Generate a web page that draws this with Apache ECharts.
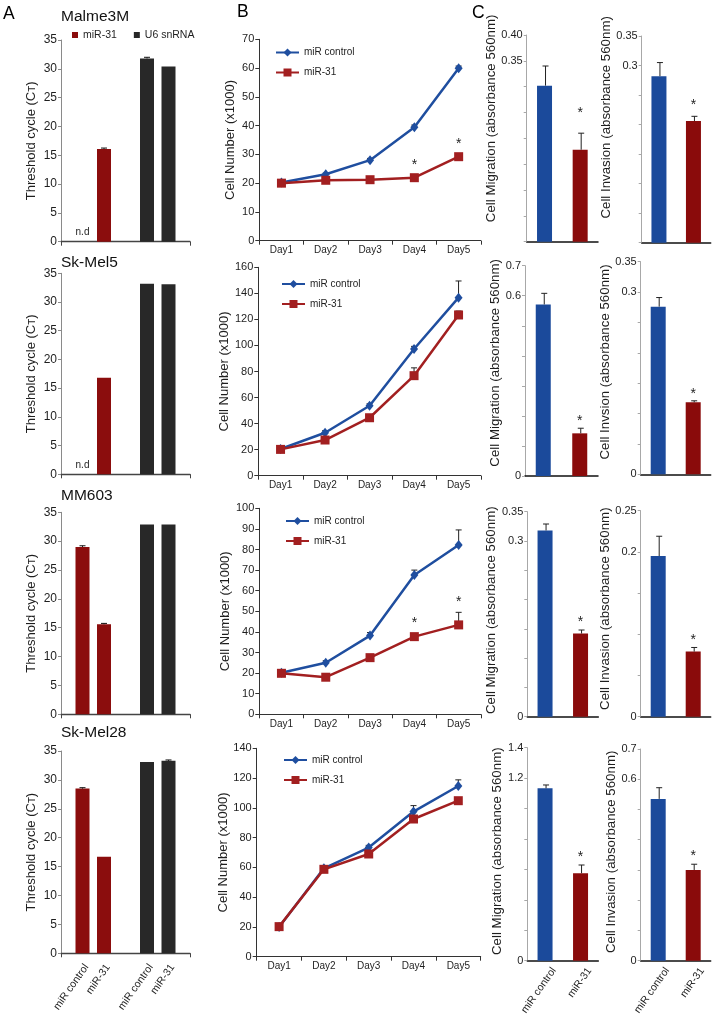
<!DOCTYPE html>
<html>
<head>
<meta charset="utf-8">
<title>miR-31 figure</title>
<script src="https://cdn.jsdelivr.net/npm/echarts/dist/echarts.min.js"></script>
<style>
html,body{margin:0;padding:0;background:#fff;}
#chart{width:718px;height:1016px;}
</style>
</head>
<body>
<div id="chart"></div>
<script>
// ================= DATA =================
const cellLines   = ['Malme3M', 'Sk-Mel5', 'MM603', 'Sk-Mel28'];
const sampleNames = ['miR control', 'miR-31'];
const probeNames  = ['miR-31', 'U6 snRNA'];

// Panel A: threshold cycle (Ct); null = not detected (n.d)
const ctMiR31Control    = [null, null, 29.0, 28.5];
const ctMiR31Treated    = [16.1, 16.8, 15.6, 16.7];
const ctU6Control       = [31.8, 33.2, 32.9, 33.1];
const ctU6Treated       = [30.4, 33.1, 32.9, 33.3];
const ctMiR31ControlErr = [0, 0, 0.2, 0.15];
const ctMiR31TreatedErr = [0.15, 0.1, 0.15, 0.1];
const ctU6ControlErr    = [0.2, 0.1, 0.1, 0.1];
const ctU6TreatedErr    = [0.1, 0.1, 0.1, 0.15];
const ctAxisMax  = 35;
const ctAxisStep = 5;

// Panel B: cell number (x1000)
const days = ['Day1', 'Day2', 'Day3', 'Day4', 'Day5'];
const growthControl = [
  [20.2, 23.1, 28.0, 39.4, 59.9],
  [20.5, 33.0, 53.7, 97.3, 136.7],
  [20.2, 25.0, 38.2, 67.6, 82.2],
  [20.0, 59.4, 73.3, 97.5, 114.7]
];
const growthMiR31 = [
  [20.0, 21.0, 21.2, 21.9, 29.2],
  [20.2, 27.4, 44.5, 76.8, 123.4],
  [19.9, 18.0, 27.5, 37.7, 43.4],
  [20.2, 58.7, 69.0, 92.5, 104.8]
];
const growthControlErr = [
  [0.3, 0.4, 0.6, 0.8, 0.8],
  [0.5, 1.5, 1.5, 2.0, 12.8],
  [0.5, 1.0, 1.5, 2.4, 7.3],
  [0.5, 1.0, 1.5, 4.0, 4.1]
];
const growthMiR31Err = [
  [0.3, 0.4, 0.4, 0.5, 0.6],
  [0.5, 1.0, 1.5, 6.0, 3.0],
  [0.5, 1.8, 1.0, 1.0, 6.1],
  [0.5, 1.0, 1.0, 1.0, 1.0]
];
const growthStars = [
  [0, 0, 0, 1, 1],
  [0, 0, 0, 0, 0],
  [0, 0, 0, 1, 1],
  [0, 0, 0, 0, 0]
];
const growthAxisMax  = [70, 160, 100, 140];
const growthAxisStep = [10, 20, 10, 20];

// Panel C: migration / invasion (absorbance 560nm)
const migrationControl    = [0.302, 0.571, 0.318, 1.133];
const migrationMiR31      = [0.178, 0.142, 0.142, 0.575];
const migrationControlErr = [0.038, 0.037, 0.011, 0.022];
const migrationMiR31Err   = [0.032, 0.017, 0.006, 0.054];
const migrationStars      = [1, 1, 1, 1];
const migrationAxisMax    = [0.40, 0.7, 0.35, 1.4];
const migrationAxisStep   = [0.05, 0.1, 0.05, 0.2];
const migrationTickLabels = [['0.40', '0.35'], ['0.7', '0.6', '0'], ['0.35', '0.3', '0'], ['1.4', '1.2', '0']];

const invasionControl    = [0.282, 0.276, 0.195, 0.535];
const invasionMiR31      = [0.206, 0.1185, 0.079, 0.300];
const invasionControlErr = [0.023, 0.015, 0.024, 0.037];
const invasionMiR31Err   = [0.008, 0.0025, 0.005, 0.019];
const invasionStars      = [1, 1, 1, 1];
const invasionAxisMax    = [0.35, 0.35, 0.25, 0.7];
const invasionAxisStep   = [0.05, 0.05, 0.05, 0.1];
const invasionTickLabels = [['0.35', '0.3'], ['0.35', '0.3', '0'], ['0.25', '0.2', '0'], ['0.7', '0.6', '0']];

const migrationTitle = ['Cell Migration (absorbance 560nm)', 'Cell Migration (absorbance 560nm)', 'Cell Migration (absorbance 560nm)', 'Cell Migration (absorbance 560nm)'];
const invasionTitle  = ['Cell Invasion (absorbance 560nm)', 'Cell Invsion (absorbance 560nm)', 'Cell Invasion (absorbance 560nm)', 'Cell Invasion (absorbance 560nm)'];

// ================= LAYOUT / STYLE =================
const FONT = "'Liberation Sans', Arial, Helvetica, sans-serif";
const RED_A = '#8b0d0d', DARK = '#282828', BLUE = '#1b4a9b', RED_C = '#8a0b0b';
const LINE_BLUE = '#1f4e9f', LINE_RED = '#a21f20';
const TXT = '#1e1e1e';

const gridA  = [[61, 40, 129, 201.7], [61, 273.3, 129, 201], [61, 512.3, 129, 202], [61, 751, 129, 202.3]];
const gridB  = [[259.3, 39.3, 221.5, 201.4], [258.3, 267.3, 222.5, 208.4], [259.3, 508.3, 221.5, 206], [256.7, 748.3, 224, 208.4]];
const gridCm = [[526.7, 35, 71.3, 206.7], [525, 265.7, 73, 210.3], [527.3, 511.7, 71, 205], [527.3, 747.7, 71, 213]];
const gridCi = [[641.7, 36, 69, 206.7], [640.7, 261.7, 70, 212.6], [640.7, 510.7, 70, 206], [640.7, 749, 70, 211.7]];
const legendB = [[275, 47.5], [281, 279], [285, 516], [283, 755]];
const rowTitleTop = [9, 255, 488, 725];
const cNameLift   = [[20, 22], [8, 6], [4, 5], [3, 3]];     // shift of C axis names upward (px)
const cStarGap    = [[23, 14], [10, 10], [11, 10], [11, 11]]; // star centre above error cap (px)

const A_BAR_W = 14, A_BAR_GAP = 7.5, A_PITCH = A_BAR_W + A_BAR_GAP;
const LABEL_ROT = 55 * Math.PI / 180;

const grid = [], xAxis = [], yAxis = [], series = [], legend = [], title = [];

function addGrid(g) {
  grid.push({ left: g[0], top: g[1], width: g[2], height: g[3], containLabel: false });
  return grid.length - 1;
}

function errorBar(x, y0, y1, ch, color) {
  if (y0 - y1 < 0.8) return;
  ch.push({ type: 'line', shape: { x1: x, y1: y0, x2: x, y2: y1 }, style: { stroke: color, lineWidth: 1 } });
  ch.push({ type: 'line', shape: { x1: x - 3, y1: y1, x2: x + 3, y2: y1 }, style: { stroke: color, lineWidth: 1 } });
}
function textEl(txt, x, y, size, align, valign, rot) {
  return { type: 'text', x: x, y: y, rotation: rot || 0,
    style: { text: txt, x: 0, y: 0, fill: TXT, fontSize: size, fontFamily: FONT,
             align: align, verticalAlign: valign, textAlign: align, textVerticalAlign: valign } };
}

// ---------- Panel B (first, so legends pick these line series) ----------
for (let r = 0; r < 4; r++) {
  const g = addGrid(gridB[r]);
  xAxis.push({ gridIndex: g, type: 'category', data: days, boundaryGap: true,
    axisLine: { lineStyle: { color: '#333', width: 1 } },
    axisTick: { show: true, length: 4, lineStyle: { color: '#333' } },
    axisLabel: { fontSize: 10, color: TXT, margin: 5, fontFamily: FONT },
    splitLine: { show: false } });
  yAxis.push({ gridIndex: g, type: 'value', min: 0, max: growthAxisMax[r], interval: growthAxisStep[r],
    axisLine: { show: true, lineStyle: { color: '#333' } },
    axisTick: { show: true, length: 4, lineStyle: { color: '#333' } },
    axisLabel: { fontSize: 11, color: TXT, margin: 5, fontFamily: FONT },
    splitLine: { show: false },
    name: 'Cell Number (x1000)', nameLocation: 'middle', nameGap: 22,
    nameTextStyle: { fontSize: 13, color: TXT, fontFamily: FONT } });
  const ax = xAxis.length - 1, ay = yAxis.length - 1;
  series.push({ type: 'line', name: 'miR control', xAxisIndex: ax, yAxisIndex: ay, data: growthControl[r],
    symbol: 'diamond', symbolSize: [8, 10], lineStyle: { color: LINE_BLUE, width: 2.5 },
    itemStyle: { color: LINE_BLUE }, z: 3, silent: true });
  series.push({ type: 'line', name: 'miR-31', xAxisIndex: ax, yAxisIndex: ay, data: growthMiR31[r],
    symbol: 'rect', symbolSize: 9, lineStyle: { color: LINE_RED, width: 2.5 },
    itemStyle: { color: LINE_RED }, z: 4, silent: true });
  const errData = [];
  days.forEach((d, i) => {
    errData.push([i, growthControl[r][i], growthControlErr[r][i], 0]);
    errData.push([i, growthMiR31[r][i], growthMiR31Err[r][i], growthStars[r][i]]);
  });
  series.push({ type: 'custom', name: 'growth-err-' + r, xAxisIndex: ax, yAxisIndex: ay, data: errData,
    encode: { x: 0, y: 1 }, z: 2, clip: false, silent: true,
    renderItem: function (params, api) {
      const i = api.value(0), v = api.value(1), e = api.value(2), s = api.value(3);
      const p = api.coord([i, v]), t = api.coord([i, v + e]);
      const ch = [];
      errorBar(p[0], p[1], t[1], ch, '#222');
      if (s) ch.push(textEl('*', p[0], Math.min(p[1] - 13, t[1] - 10), 14, 'center', 'middle'));
      return { type: 'group', children: ch };
    } });
  legend.push({ left: legendB[r][0], top: legendB[r][1], orient: 'vertical', itemWidth: 23, itemHeight: 10,
    itemGap: 10, padding: 0, selectedMode: false, data: ['miR control', 'miR-31'],
    textStyle: { fontSize: 10, color: TXT, fontFamily: FONT } });
}

// ---------- Panel A ----------
for (let r = 0; r < 4; r++) {
  const g = addGrid(gridA[r]);
  xAxis.push({ gridIndex: g, type: 'category', data: probeNames, boundaryGap: true,
    axisLine: { lineStyle: { color: '#444', width: 1.3 } },
    axisTick: { show: true, length: 4, lineStyle: { color: '#444' } },
    axisLabel: { show: false }, splitLine: { show: false } });
  yAxis.push({ gridIndex: g, type: 'value', min: 0, max: ctAxisMax, interval: ctAxisStep,
    axisLine: { show: true, lineStyle: { color: '#8a8a8a' } },
    axisTick: { show: true, length: 3, lineStyle: { color: '#8a8a8a' } },
    axisLabel: { fontSize: 12, color: TXT, margin: 4, fontFamily: FONT },
    splitLine: { show: false },
    name: 'Threshold cycle (C\u1D1B)', nameLocation: 'middle', nameGap: 23,
    nameTextStyle: { fontSize: 13, color: TXT, fontFamily: FONT } });
  const ax = xAxis.length - 1, ay = yAxis.length - 1;
  const c0 = ctMiR31Control[r];
  series.push({ type: 'bar', name: cellLines[r] + ' / miR control', xAxisIndex: ax, yAxisIndex: ay,
    barWidth: A_BAR_W, barGap: (A_BAR_GAP / A_BAR_W * 100) + '%', silent: true,
    data: [{ value: c0 == null ? '-' : c0, itemStyle: { color: RED_A } },
           { value: ctU6Control[r], itemStyle: { color: DARK } }] });
  series.push({ type: 'bar', name: cellLines[r] + ' / miR-31', xAxisIndex: ax, yAxisIndex: ay,
    barWidth: A_BAR_W, barGap: (A_BAR_GAP / A_BAR_W * 100) + '%', silent: true,
    data: [{ value: ctMiR31Treated[r], itemStyle: { color: RED_A } },
           { value: ctU6Treated[r], itemStyle: { color: DARK } }] });
  const showLabels = r === 3;
  series.push({ type: 'custom', name: 'ct-err-' + r, xAxisIndex: ax, yAxisIndex: ay, encode: { x: 0, y: 2 },
    z: 3, clip: false, silent: true,
    data: [[0, 0, c0 == null ? 0 : c0, ctMiR31ControlErr[r], c0 == null ? 1 : 0],
           [0, 1, ctMiR31Treated[r], ctMiR31TreatedErr[r], 0],
           [1, 0, ctU6Control[r], ctU6ControlErr[r], 0],
           [1, 1, ctU6Treated[r], ctU6TreatedErr[r], 0]],
    renderItem: function (params, api) {
      const cat = api.value(0), pos = api.value(1), v = api.value(2), e = api.value(3), nd = api.value(4);
      const p = api.coord([cat, v]), t = api.coord([cat, v + e]), b = api.coord([cat, 0]);
      const x = p[0] + (pos - 0.5) * A_PITCH;
      const ch = [];
      if (nd) ch.push(textEl('n.d', x, b[1] - 4, 10, 'center', 'bottom'));
      else errorBar(x, p[1], t[1], ch, '#111');
      if (showLabels) ch.push(textEl(sampleNames[pos], x + 4, b[1] + 12, 10.5, 'right', 'middle', LABEL_ROT));
      return { type: 'group', children: ch };
    } });
  if (r === 0) {
    series.push({ type: 'line', name: 'U6 snRNA', xAxisIndex: ax, yAxisIndex: ay, data: [],
      itemStyle: { color: DARK }, lineStyle: { color: DARK } });
  }
  title.push({ text: cellLines[r], left: 61, top: rowTitleTop[r], padding: 0,
    textStyle: { fontSize: 15.5, fontWeight: 'normal', color: '#111', fontFamily: FONT } });
}
legend.push({ left: 72, top: 29.5, orient: 'horizontal', itemWidth: 6, itemHeight: 6, itemGap: 17,
  padding: 0, selectedMode: false,
  data: [{ name: 'miR-31', icon: 'rect', itemStyle: { color: RED_A, borderWidth: 0 } },
         { name: 'U6 snRNA', icon: 'rect', itemStyle: { color: DARK, borderWidth: 0 } }],
  textStyle: { fontSize: 10.5, color: TXT, fontFamily: FONT } });

// ---------- Panel C ----------
function addC(gridPos, ctrl, mir, ctrlErr, mirErr, star, axMax, axStep, tickLabels, name, nameGap, nameLift, starGap, showLabels) {
  const g = addGrid(gridPos);
  xAxis.push({ gridIndex: g, type: 'category', data: sampleNames, boundaryGap: true,
    axisLine: { lineStyle: { color: '#111', width: 1.5 } },
    axisTick: { show: false }, axisLabel: { show: false }, splitLine: { show: false } });
  yAxis.push({ gridIndex: g, type: 'value', min: 0, max: axMax, interval: axStep,
    axisLine: { show: true, lineStyle: { color: '#a8a8a8' } },
    axisTick: { show: true, length: 3, lineStyle: { color: '#a8a8a8' } },
    axisLabel: { fontSize: 11, color: TXT, margin: 4, fontFamily: FONT, showMinLabel: true, showMaxLabel: true,
      formatter: function (v) {
        const m = tickLabels.find(s => Math.abs(parseFloat(s) - v) < 1e-6);
        return m === undefined ? '' : m;
      } },
    splitLine: { show: false },
    name: name, nameLocation: 'middle', nameGap: nameGap,
    nameTextStyle: { fontSize: 13.3, color: TXT, fontFamily: FONT, padding: [0, 0, 0, 2 * nameLift] } });
  const ax = xAxis.length - 1, ay = yAxis.length - 1;
  series.push({ type: 'bar', name: name + ' bars', xAxisIndex: ax, yAxisIndex: ay, barWidth: 15, silent: true,
    data: [{ value: ctrl, itemStyle: { color: BLUE } }, { value: mir, itemStyle: { color: RED_C } }] });
  series.push({ type: 'custom', name: name + ' err', xAxisIndex: ax, yAxisIndex: ay, encode: { x: 0, y: 1 },
    z: 3, clip: false, silent: true,
    data: [[0, ctrl, ctrlErr, 0], [1, mir, mirErr, star]],
    renderItem: function (params, api) {
      const i = api.value(0), v = api.value(1), e = api.value(2), s = api.value(3);
      const p = api.coord([i, v]), t = api.coord([i, v + e]), b = api.coord([i, 0]);
      const ch = [];
      errorBar(p[0] + 1, p[1], t[1], ch, '#222');
      if (s) ch.push(textEl('*', p[0], t[1] - starGap + 3, 14, 'center', 'middle'));
      if (showLabels) ch.push(textEl(sampleNames[i], p[0] + 9, b[1] + 8, 10.5, 'right', 'middle', LABEL_ROT));
      return { type: 'group', children: ch };
    } });
}
for (let r = 0; r < 4; r++) {
  addC(gridCm[r], migrationControl[r], migrationMiR31[r], migrationControlErr[r], migrationMiR31Err[r],
       migrationStars[r], migrationAxisMax[r], migrationAxisStep[r], migrationTickLabels[r], migrationTitle[r],
       23, cNameLift[r][0], cStarGap[r][0], r === 3);
  addC(gridCi[r], invasionControl[r], invasionMiR31[r], invasionControlErr[r], invasionMiR31Err[r],
       invasionStars[r], invasionAxisMax[r], invasionAxisStep[r], invasionTickLabels[r], invasionTitle[r],
       20, cNameLift[r][1], cStarGap[r][1], r === 3);
}

// ---------- Panel letters ----------
[['A', 3, 5], ['B', 237, 3], ['C', 472, 4]].forEach(function (l) {
  title.push({ text: l[0], left: l[1], top: l[2], padding: 0,
    textStyle: { fontSize: 17.5, fontWeight: 'normal', color: '#000', fontFamily: FONT } });
});

const chart = echarts.init(document.getElementById('chart'), null, { renderer: 'canvas' });
chart.setOption({
  animation: false,
  backgroundColor: '#fff',
  textStyle: { fontFamily: FONT },
  title: title, legend: legend, grid: grid, xAxis: xAxis, yAxis: yAxis, series: series,
  tooltip: { show: false }
});
</script>
</body>
</html>
